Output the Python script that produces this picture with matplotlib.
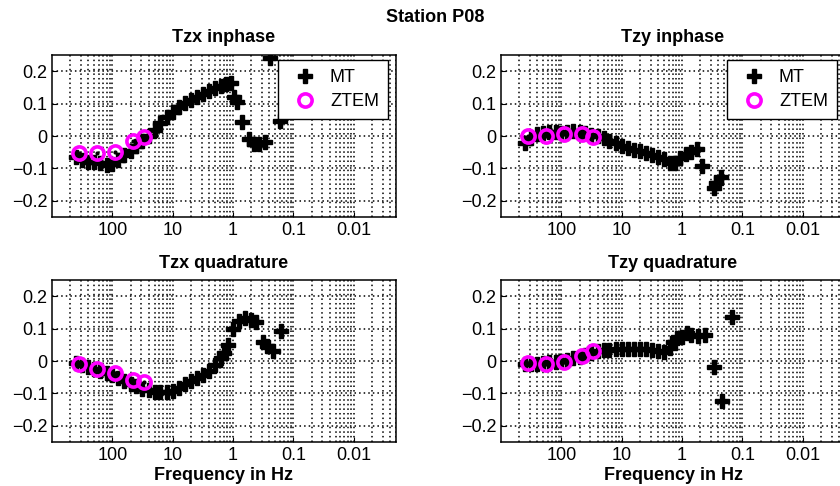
import matplotlib
matplotlib.use('Agg')
import matplotlib.pyplot as plt
import numpy as np
from matplotlib.ticker import LogLocator, NullFormatter

plt.rcParams['font.family'] = ['Liberation Sans', 'DejaVu Sans']

# ZTEM-Frequenzen (Hz) und Werte
ztem_freq = [360, 180, 90, 45, 30]
ztem_tzx_re = [-0.051, -0.051, -0.05, -0.014, -0.004]
ztem_tzy_re = [0.0, 0.0, 0.005, 0.005, -0.003]
ztem_tzx_im = [-0.01, -0.024, -0.038, -0.06, -0.064]
ztem_tzy_im = [-0.007, -0.008, -0.003, 0.016, 0.03]

# MT: Tzx inphase
mt_freq_tzx_re = [400, 320, 250, 200, 160, 125, 100, 80, 63, 50,
                  40, 32, 25, 20, 16, 12.5, 10, 8, 6.3, 5,
                  4, 3.2, 2.5, 2.0, 1.6, 1.3, 1.1, 0.95, 0.85, 0.7,
                  0.55, 0.45, 0.37, 0.3, 0.24, 0.17]
mt_tzx_re = [-0.065, -0.075, -0.08, -0.08, -0.082, -0.09, -0.085, -0.075, -0.06, -0.045,
             -0.03, -0.015, 0.0, 0.018, 0.04, 0.06, 0.075, 0.09, 0.102, 0.112,
             0.12, 0.13, 0.14, 0.148, 0.155, 0.16, 0.165, 0.12, 0.105, 0.042,
             -0.01, -0.025, -0.025, -0.018, 0.24, 0.045]

# MT: Tzy inphase
mt_freq_tzy_re = [400, 320, 250, 200, 160, 125, 100, 80, 63, 50,
                  40, 32, 25, 20, 16, 12.5, 10, 8, 6.3, 5,
                  4, 3.2, 2.5, 2.0, 1.6, 1.3, 1.1, 0.85, 0.7, 0.57,
                  0.46, 0.3, 0.27, 0.23]
mt_tzy_re = [-0.022, -0.005, 0.005, 0.01, 0.012, 0.012, 0.01, 0.012, 0.015, 0.012,
             0.008, 0.004, 0.0, -0.006, -0.014, -0.022, -0.03, -0.036, -0.042, -0.047,
             -0.053, -0.058, -0.064, -0.072, -0.082, -0.082, -0.068, -0.056, -0.048, -0.04,
             -0.092, -0.16, -0.145, -0.125]

# MT: Tzx quadrature
mt_freq_tzx_im = [400, 320, 250, 200, 160, 125, 100, 80, 63, 50,
                  40, 32, 25, 20, 16, 12.5, 10, 8, 6.3, 5,
                  4, 3.2, 2.5, 2.0, 1.6, 1.4, 1.2, 1.0, 0.8, 0.64,
                  0.5, 0.42, 0.32, 0.27, 0.22, 0.16]
mt_tzx_im = [-0.005, -0.012, -0.018, -0.024, -0.03, -0.036, -0.043, -0.052, -0.062, -0.07,
             -0.078, -0.085, -0.09, -0.095, -0.097, -0.096, -0.093, -0.083, -0.072, -0.063,
             -0.052, -0.042, -0.03, -0.012, 0.008, 0.025, 0.05, 0.1, 0.125, 0.133,
             0.128, 0.12, 0.06, 0.045, 0.032, 0.093]

# MT: Tzy quadrature
mt_freq_tzy_im = [400, 320, 250, 200, 160, 125, 100, 80, 63, 50,
                  40, 32, 25, 20, 16, 12.5, 10, 8, 6.3, 5,
                  4, 3.2, 2.5, 2.0, 1.6, 1.4, 1.2, 1.0, 0.84, 0.7,
                  0.54, 0.42, 0.3, 0.22, 0.15]
mt_tzy_im = [-0.01, -0.008, -0.008, -0.006, -0.004, -0.002, 0.0, 0.004, 0.008, 0.012,
             0.018, 0.024, 0.03, 0.033, 0.035, 0.036, 0.037, 0.037, 0.038, 0.037,
             0.036, 0.033, 0.03, 0.028, 0.04, 0.06, 0.07, 0.075, 0.085, 0.08,
             0.077, 0.08, -0.017, -0.122, 0.137]

titles = ['Tzx inphase', 'Tzy inphase', 'Tzx quadrature', 'Tzy quadrature']
freq_ticks = [100, 10, 1, 0.1, 0.01]
freq_tick_labels = ['100', '10', '1', '0.1', '0.01']
y_ticks = [-0.2, -0.1, 0, 0.1, 0.2]
y_tick_labels = ['\u22120.2', '\u22120.1', '0', '0.1', '0.2']

panels = [
    (mt_freq_tzx_re, mt_tzx_re, ztem_tzx_re),
    (mt_freq_tzy_re, mt_tzy_re, ztem_tzy_re),
    (mt_freq_tzx_im, mt_tzx_im, ztem_tzx_im),
    (mt_freq_tzy_im, mt_tzy_im, ztem_tzy_im),
]

W, H = 840, 486
fig = plt.figure(figsize=(W / 100, H / 100), dpi=100)

# Achsenpositionen in Pixeln (links, oben)
ax_px = [(52, 55), (501, 55), (52, 280), (501, 280)]
ax_w, ax_h = 344, 162

for i, (x0, y0) in enumerate(ax_px):
    ax = fig.add_axes([x0 / W, 1 - (y0 + ax_h) / H, ax_w / W, ax_h / H])
    mt_f, mt_v, zt_v = panels[i]

    # Periode auf der x-Achse, beschriftet mit Frequenz
    ax.plot(1 / np.array(mt_f), mt_v, 'P', color='k', ms=9.5, ls='none', label='MT')
    ax.plot(1 / np.array(ztem_freq), zt_v, 'o', mfc='none', mec='#ff00ff', mew=2.6,
            ms=9.5, ls='none', label='ZTEM')
    ax.plot(1 / np.array(ztem_freq), zt_v, '.', color='k', ms=4, ls='none')

    ax.set_xscale('log')
    ax.set_xlim(1e-3, 500)
    ax.set_ylim(-0.25, 0.25)
    ax.set_xticks(1 / np.array(freq_ticks))
    ax.set_xticklabels(freq_tick_labels)
    ax.xaxis.set_minor_locator(LogLocator(base=10, subs=np.arange(2, 10)))
    ax.xaxis.set_minor_formatter(NullFormatter())
    ax.set_yticks(y_ticks)
    ax.set_yticklabels(y_tick_labels)
    ax.tick_params(axis='both', which='both', direction='in', labelsize=13)
    ax.tick_params(axis='x', which='minor', length=0)
    ax.grid(True, which='major', ls=(0, (1, 2)), color='k', lw=1.1)
    ax.grid(True, which='minor', axis='x', ls=(0, (1, 2)), color='k', lw=1.1)
    for s in ax.spines.values():
        s.set_linewidth(1.1)
    ax.set_title(titles[i], fontsize=13, fontweight='bold', pad=9)

    if i < 2:
        ax.legend(loc='upper right', bbox_to_anchor=(1 - 8 / ax_w, 1 - 5 / ax_h),
                  borderaxespad=0, fontsize=13, fancybox=False, framealpha=1,
                  edgecolor='k', handlelength=2.0, handletextpad=0.4,
                  labelspacing=0.4, borderpad=0.5)
    else:
        ax.set_xlabel('Frequency in Hz', fontsize=13, fontweight='bold', labelpad=2)

fig.text(435 / W, 1 - 17 / H, 'Station P08', ha='center', va='center',
         fontsize=13, fontweight='bold')

fig.savefig('out.png', dpi=100)
